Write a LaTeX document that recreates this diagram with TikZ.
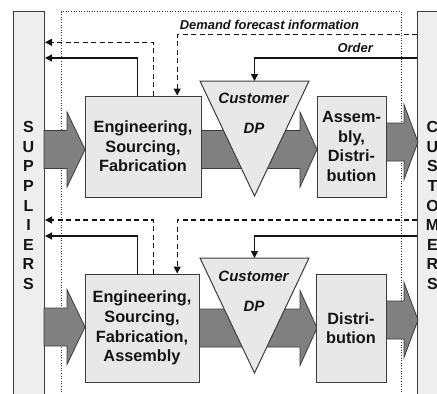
\documentclass[tikz,border=0pt]{standalone}
\usepackage{fontspec}
\setmainfont{Liberation Sans}
\usetikzlibrary{arrows.meta,calc}
\definecolor{boxfill}{HTML}{E8E8E8}
\definecolor{barfill}{HTML}{EEEEEE}
\definecolor{flowfill}{HTML}{808080}
\definecolor{edge}{HTML}{3C3C3C}
\definecolor{ink}{HTML}{141414}

% block arrow: #1 tail x, #2 head start x, #3 tip x, #4 centre y
\newcommand\flowarrow[4]{%
  \draw[flow] (#1,{#4-19}) -- (#2,{#4-19}) -- (#2,{#4-37.5}) -- (#3,#4)
    -- (#2,{#4+37.5}) -- (#2,{#4+19}) -- (#1,{#4+19}) -- cycle;}

\begin{document}
\begin{tikzpicture}[x=1pt,y=-1pt,
  procbox/.style={draw=edge, fill=boxfill, line width=1pt, inner sep=0pt, align=center,
    font=\fontsize{16.3}{19.6}\selectfont\bfseries, text=ink},
  sidebar/.style={draw=edge, fill=barfill, line width=1pt, inner sep=0pt, anchor=north west,
    minimum width=31pt, minimum height=400pt},
  barlabel/.style={align=center, inner sep=0pt, font=\fontsize{16}{19.6}\selectfont\bfseries, text=ink},
  dp/.style={draw=edge, fill=boxfill, line width=1pt, line join=miter},
  dplabel/.style={inner sep=0pt, font=\fontsize{15}{18}\selectfont\bfseries\itshape, text=ink},
  flow/.style={draw=edge, fill=flowfill, line width=0.8pt, line join=miter},
  link/.style={draw=ink, line width=1.1pt, -{Triangle[length=7pt,width=7pt]}},
  infolink/.style={link, dash pattern=on 5pt off 3.5pt},
  linklabel/.style={inner sep=0pt, font=\fontsize{12.9}{15}\selectfont\bfseries\itshape, text=ink},
]
\useasboundingbox (0,0) rectangle (437,394);
\clip (0,0) rectangle (437,394);

% company boundary
\draw[dotted, draw=edge, line width=0.6pt] (61,11.5) rectangle (401,410);

% suppliers and customers
\node[sidebar] (sup) at (13,11) {};
\node[sidebar] (cus) at (417,11) {};
\node[barlabel] (suplabel) at (28.5,205.5) {S\\U\\P\\P\\L\\I\\E\\R\\S};
\node[barlabel] (cuslabel) at (432.5,205.5) {C\\U\\S\\T\\O\\M\\E\\R\\S};

% material flow
\flowarrow{44}{67}{85}{149.5}
\flowarrow{195}{300}{317}{149.5}
\flowarrow{380}{404}{418}{142}
\flowarrow{44}{67}{85}{327}
\flowarrow{195}{300}{317}{328}
\flowarrow{380}{404}{418}{320}

% process steps
\node[procbox, minimum width=116pt, minimum height=101pt] (b1) at (143,146.5)
  {Engineering,\\Sourcing,\\Fabrication};
\node[procbox, minimum width=69pt, minimum height=101pt] (b3) at (351.5,146.5)
  {Assem-\\bly,\\Distri-\\bution};
\node[procbox, minimum width=114pt, minimum height=108pt] (b2) at (142,328)
  {Engineering,\\Sourcing,\\Fabrication,\\Assembly};
\node[procbox, minimum width=70pt, minimum height=108pt] (b4) at (351,328)
  {Distri-\\bution};

% decoupling points
\coordinate (t1a) at (200,81);
\coordinate (t1b) at (309,81);
\coordinate (t1c) at (254.5,196);
\coordinate (t1top) at (254.5,81);
\draw[dp] (t1a) -- (t1b) -- (t1c) -- cycle;
\node[dplabel] (c1) at (253.5,98) {Customer};
\node[dplabel] (dp1) at (254,128) {DP};

\coordinate (t2a) at (200,258);
\coordinate (t2b) at (309,258);
\coordinate (t2c) at (254.5,373);
\coordinate (t2top) at (254.5,258);
\draw[dp] (t2a) -- (t2b) -- (t2c) -- cycle;
\node[dplabel] (c2) at (253.5,276) {Customer};
\node[dplabel] (dp2) at (254,306) {DP};

% information and order flow
\coordinate (y34) at (0,34.3);
\coordinate (y42) at (0,42.3);
\coordinate (y58) at (0,58);
\coordinate (y220) at (0,220);
\coordinate (y236) at (0,236);

\draw[infolink] ([xshift=69pt]b1.north west) |- (sup.east |- y42);
\draw[link] ([xshift=53pt]b1.north west) |- (sup.east |- y58);
\draw[infolink] (cus.west |- y34) -| ([xshift=92.7pt]b1.north west);
\draw[link] (cus.west |- y58) -| (t1top);

\draw[infolink] ([xshift=69pt]b2.north west) |- (sup.east |- y220);
\draw[link] ([xshift=53pt]b2.north west) |- (sup.east |- y236);
\draw[infolink] (cus.west |- y220) -| ([xshift=92.7pt]b2.north west);
\draw[link] (cus.west |- y236) -| (t2top);

\node[linklabel] (dfi) at (269.5,25) {Demand forecast information};
\node[linklabel, anchor=east] (ord) at (373,48) {Order};
\end{tikzpicture}
\end{document}
